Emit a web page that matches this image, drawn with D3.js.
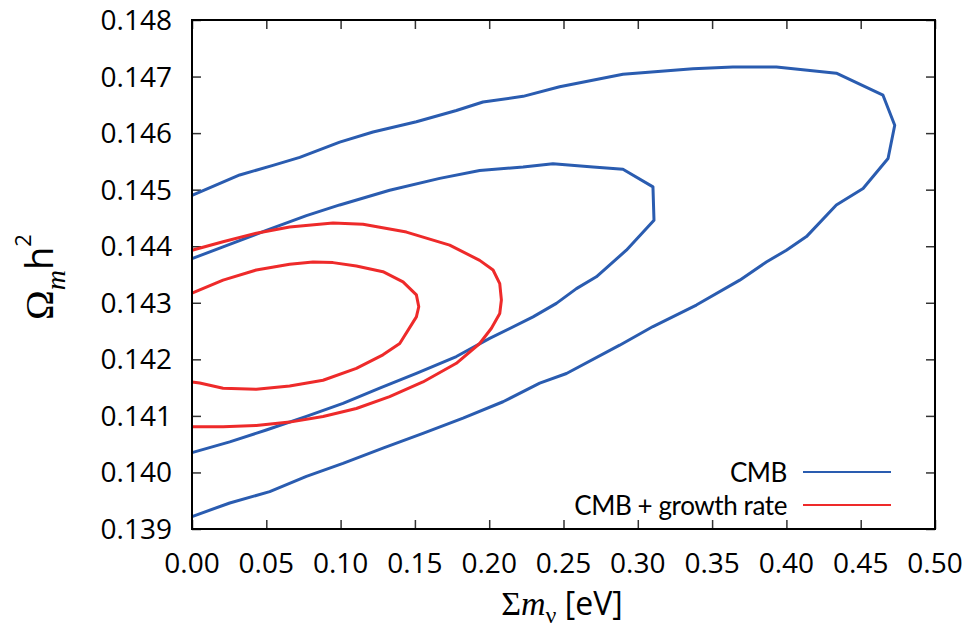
<!DOCTYPE html>
<html>
<head>
<meta charset="utf-8">
<script src="https://cdn.jsdelivr.net/npm/d3@7"></script>
<style>
  body { margin: 0; background: #fff; }
  text { font-family: "Open Sans", sans-serif; fill: #000; }
</style>
</head>
<body>
<svg id="chart" width="966" height="633"></svg>
<script>
// tick labels
let xTicks = [0, 0.05, 0.10, 0.15, 0.20, 0.25, 0.30, 0.35, 0.40, 0.45, 0.50];
let yTicks = [0.139, 0.140, 0.141, 0.142, 0.143, 0.144, 0.145, 0.146, 0.147, 0.148];

// contours, [sum m_nu, Omega_m h^2]
let cmbOuter = [[0,0.14490],[0.0321,0.14526],[0.0545,0.14543],[0.0725,0.14557],[0.0994,0.14584],[0.1218,0.14602],[0.151,0.14620],[0.1779,0.14640],[0.1958,0.14655],[0.2228,0.14665],[0.2474,0.14682],[0.290,0.14704],[0.3371,0.14714],[0.364,0.14717],[0.3933,0.14717],[0.4336,0.14706],[0.465,0.14667],[0.4729,0.14614],[0.4684,0.14555],[0.4516,0.14502],[0.4336,0.14473],[0.4135,0.14417],[0.40,0.14393],[0.3865,0.14372],[0.3686,0.14340],[0.3394,0.14296],[0.3102,0.14258],[0.2878,0.14225],[0.252,0.14175],[0.234,0.14158],[0.2093,0.14125],[0.1824,0.14096],[0.1554,0.14069],[0.1285,0.14043],[0.1016,0.14016],[0.077,0.13993],[0.0523,0.13966],[0.0254,0.13946],[0,0.13922]];
let cmbInner = [[0,0.14378],[0.0209,0.14399],[0.05,0.14428],[0.077,0.14454],[0.0994,0.14473],[0.133,0.14499],[0.1667,0.14520],[0.1936,0.14534],[0.2228,0.14540],[0.2429,0.14546],[0.2699,0.14540],[0.290,0.14536],[0.3102,0.14505],[0.3109,0.14446],[0.2923,0.14393],[0.2721,0.14346],[0.2587,0.14325],[0.2452,0.14299],[0.2295,0.14275],[0.2003,0.14237],[0.1779,0.14205],[0.151,0.14175],[0.1263,0.14149],[0.1016,0.14122],[0.077,0.14099],[0.05,0.14075],[0.0254,0.14054],[0,0.14035]];
let growthOuter = [[0,0.14393],[0.0209,0.14408],[0.0433,0.14423],[0.0657,0.14434],[0.0949,0.14441],[0.1151,0.14439],[0.1443,0.14425],[0.1734,0.14402],[0.1936,0.14375],[0.2026,0.14358],[0.2071,0.14334],[0.2082,0.14305],[0.2071,0.14281],[0.2015,0.14255],[0.1936,0.14228],[0.1779,0.14193],[0.1554,0.14160],[0.1330,0.14134],[0.1106,0.14113],[0.0882,0.14099],[0.0657,0.14089],[0.0433,0.14083],[0.0209,0.14081],[0,0.14081]];
let growthInner = [[0,0.14317],[0.0209,0.14340],[0.0433,0.14358],[0.0657,0.14368],[0.0814,0.14372],[0.0949,0.14371],[0.1106,0.14365],[0.1285,0.14355],[0.142,0.14337],[0.151,0.14314],[0.1526,0.14293],[0.151,0.14275],[0.1398,0.14228],[0.1285,0.14208],[0.1106,0.14184],[0.0882,0.14163],[0.0657,0.14153],[0.0433,0.14147],[0.0209,0.14149],[0.0052,0.14158],[0,0.14160]];

let seriesNames = ["CMB", "CMB + growth rate"];
let seriesColors = ["#2a5cb0", "#ee2a2a"];

let svg = d3.select("#chart");
let pLeft = 192, pTop = 20, pRight = 935, pBottom = 529;

let x = d3.scaleLinear().domain([0, 0.5]).range([pLeft, pRight]);
let y = d3.scaleLinear().domain([0.139, 0.148]).range([pBottom, pTop]);

// ticks on all four sides, pointing inwards
let tickLen = 9;
svg.append("g").attr("transform", "translate(0," + pBottom + ")")
  .call(d3.axisBottom(x).tickValues(xTicks).tickSize(-tickLen).tickFormat(""));
svg.append("g").attr("transform", "translate(0," + pTop + ")")
  .call(d3.axisTop(x).tickValues(xTicks).tickSize(-tickLen).tickFormat(""));
svg.append("g").attr("transform", "translate(" + pLeft + ",0)")
  .call(d3.axisLeft(y).tickValues(yTicks).tickSize(-tickLen).tickFormat(""));
svg.append("g").attr("transform", "translate(" + pRight + ",0)")
  .call(d3.axisRight(y).tickValues(yTicks).tickSize(-tickLen).tickFormat(""));
svg.selectAll(".domain").remove();
svg.selectAll(".tick line").attr("stroke", "#333").attr("stroke-width", 1.5);

// tick labels
svg.append("g").selectAll("text")
  .data(xTicks).enter().append("text")
  .attr("x", d => x(d)).attr("y", 573)
  .attr("text-anchor", "middle").attr("font-size", 28)
  .text(d => d.toFixed(2));
svg.append("g").selectAll("text")
  .data(yTicks).enter().append("text")
  .attr("x", 172).attr("y", d => y(d) + 10)
  .attr("text-anchor", "end").attr("font-size", 28)
  .text(d => d.toFixed(3));

// contours
let line = d3.line().x(d => x(d[0])).y(d => y(d[1]));
let contours = [[cmbOuter, 0], [cmbInner, 0], [growthOuter, 1], [growthInner, 1]];
svg.append("g").selectAll("path")
  .data(contours).enter().append("path")
  .attr("d", d => line(d[0]))
  .attr("fill", "none")
  .attr("stroke", d => seriesColors[d[1]])
  .attr("stroke-width", 3)
  .attr("stroke-linejoin", "round");

// frame
svg.append("rect")
  .attr("x", pLeft).attr("y", pTop)
  .attr("width", pRight - pLeft).attr("height", pBottom - pTop)
  .attr("fill", "none").attr("stroke", "#000").attr("stroke-width", 2);

// legend (Lato has a tighter line box, so the two rows don't collide)
let leg = svg.append("g").selectAll("g")
  .data(seriesNames).enter().append("g")
  .attr("transform", (d, i) => "translate(0," + (472 + i * 33) + ")");
leg.append("text")
  .attr("x", 787).attr("y", 9.5)
  .attr("text-anchor", "end")
  .style("font-family", "Lato, sans-serif").attr("font-size", 26)
  .attr("letter-spacing", -0.4)
  .text(d => d);
leg.append("line")
  .attr("x1", 803).attr("x2", 891)
  .attr("stroke", (d, i) => seriesColors[i]).attr("stroke-width", 2);

// x label: Σm_ν [eV]
let xl = svg.append("text")
  .attr("x", 562).attr("y", 615)
  .attr("text-anchor", "middle");
xl.append("tspan").attr("font-family", "Liberation Serif, serif").attr("font-size", 34).text("Σ");
xl.append("tspan").attr("font-family", "Liberation Serif, serif").attr("font-style", "italic").attr("font-size", 34).text("m");
xl.append("tspan").attr("font-family", "Liberation Serif, serif").attr("font-size", 24).attr("dy", 8).text("ν");
xl.append("tspan").attr("font-size", 32).attr("dy", -8).text(" [eV]");

// y label: Ω_m h^2
let yl = svg.append("text")
  .attr("transform", "translate(53,277) rotate(-90)")
  .attr("text-anchor", "middle");
yl.append("tspan").attr("font-family", "Liberation Serif, serif").attr("font-size", 40).text("Ω");
yl.append("tspan").attr("font-family", "Liberation Serif, serif").attr("font-style", "italic").attr("font-size", 28).attr("dy", 12).text("m");
yl.append("tspan").attr("font-size", 38).attr("dy", -12).text("h");
yl.append("tspan").attr("font-size", 22).attr("dy", -22).text("2");
</script>
</body>
</html>
